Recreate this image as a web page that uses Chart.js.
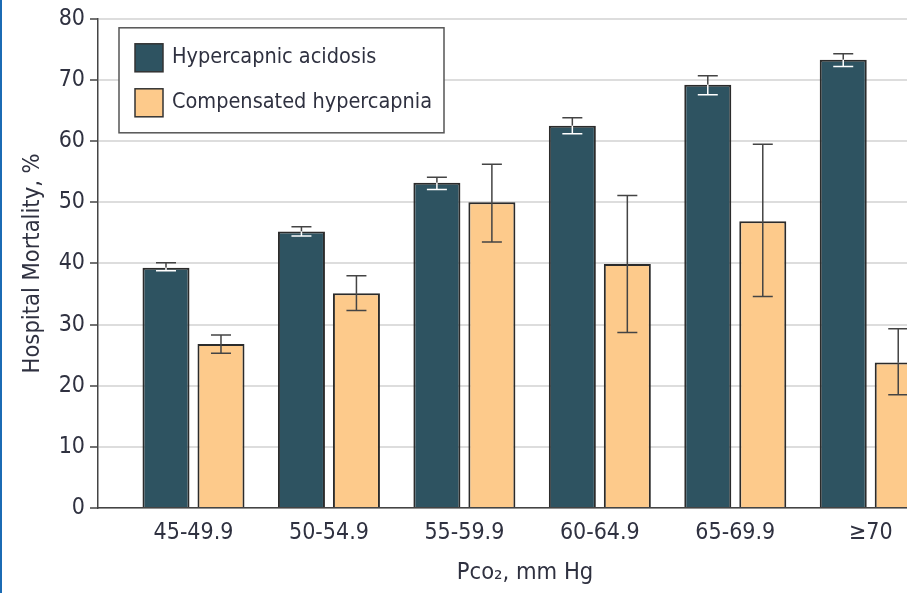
<!DOCTYPE html>
<html>
<head>
<meta charset="utf-8">
<script src="https://cdn.jsdelivr.net/npm/chart.js@4.4.1/dist/chart.umd.min.js"></script>
<style>
  html, body { margin: 0; padding: 0; background: #fff; overflow: hidden; }
  #wrap { width: 907px; height: 593px; overflow: hidden; border-left: 2px solid #1b6bb4; box-sizing: border-box; }
  canvas { display: block; }
</style>
</head>
<body>
<div id="wrap"><canvas id="chart" width="950" height="593"></canvas></div>
<script>
const groups = ['45-49.9', '50-54.9', '55-59.9', '60-64.9', '65-69.9', '\u226570'];

const acidosis = [39.3, 45.2, 53.2, 62.5, 69.2, 73.3];
const acidosisLow = [38.8, 44.5, 52.1, 61.2, 67.6, 72.2];
const acidosisHigh = [40.1, 46.0, 54.1, 63.8, 70.7, 74.3];

const compensated = [26.8, 35.1, 50.0, 39.9, 46.9, 23.8];
const compensatedLow = [25.3, 32.3, 43.5, 28.7, 34.6, 18.5];
const compensatedHigh = [28.3, 38.0, 56.2, 51.1, 59.5, 29.3];

const yTicks = [0, 10, 20, 30, 40, 50, 60, 70, 80];

const FONT = '"DejaVu Sans Condensed", "Liberation Sans Narrow", sans-serif';
const TEXT = '#2f3140';

// error bars drawn from the y scale; inside the dark bars the lower half is white
const errorBars = {
	id: 'errorBars',
	afterDatasetsDraw(chart) {
		const { ctx, scales } = chart;
		chart.data.datasets.forEach((ds, di) => {
			const meta = chart.getDatasetMeta(di);
			meta.data.forEach((bar, i) => {
				const yHi = scales.y.getPixelForValue(ds.errHigh[i]);
				const yLo = scales.y.getPixelForValue(ds.errLow[i]);
				const cap = 10;
				ctx.save();
				ctx.lineWidth = 1.5;
				ctx.strokeStyle = '#444';
				ctx.beginPath();
				ctx.moveTo(bar.x, yHi);
				ctx.lineTo(bar.x, Math.min(bar.y, yLo));
				ctx.moveTo(bar.x - cap, yHi);
				ctx.lineTo(bar.x + cap, yHi);
				ctx.stroke();
				ctx.strokeStyle = ds.innerErr;
				ctx.beginPath();
				ctx.moveTo(bar.x, bar.y);
				ctx.lineTo(bar.x, yLo);
				ctx.moveTo(bar.x - cap, yLo);
				ctx.lineTo(bar.x + cap, yLo);
				ctx.stroke();
				ctx.restore();
			});
		});
	},
};

const boxLegend = {
	id: 'boxLegend',
	afterDraw(chart) {
		const { ctx, chartArea } = chart;
		const x = chartArea.left + 21, y = chartArea.top + 9;
		ctx.save();
		ctx.fillStyle = '#fff';
		ctx.fillRect(x, y, 325, 105);
		ctx.lineWidth = 1.5;
		ctx.strokeStyle = '#555';
		ctx.strokeRect(x, y, 325, 105);
		ctx.font = '21.5px ' + FONT;
		ctx.textBaseline = 'middle';
		chart.data.datasets.forEach((ds, i) => {
			const sy = y + 16 + i * 45;
			ctx.fillStyle = ds.backgroundColor;
			ctx.fillRect(x + 16, sy, 28, 28);
			ctx.strokeStyle = '#333';
			ctx.strokeRect(x + 16, sy, 28, 28);
			ctx.fillStyle = TEXT;
			ctx.fillText(ds.label, x + 53, sy + 14);
		});
		ctx.restore();
	},
};

new Chart(document.getElementById('chart'), {
	type: 'bar',
	data: {
		datasets: [
			{
				label: 'Hypercapnic acidosis',
				data: acidosis.map((v, i) => ({ x: i, y: v })),
				errLow: acidosisLow,
				errHigh: acidosisHigh,
				innerErr: '#ffffff',
				backgroundColor: '#2e5361',
				borderColor: '#2b2b2b',
				borderWidth: 2,
			},
			{
				label: 'Compensated hypercapnia',
				data: compensated.map((v, i) => ({ x: i, y: v })),
				errLow: compensatedLow,
				errHigh: compensatedHigh,
				innerErr: '#444',
				backgroundColor: '#fdca8b',
				borderColor: '#2b2b2b',
				borderWidth: 2,
			},
		],
	},
	options: {
		responsive: false,
		animation: false,
		categoryPercentage: 0.812,
		barPercentage: 0.855,
		layout: { padding: { top: 15, left: 0, right: 0, bottom: 0 } },
		plugins: { legend: { display: false }, tooltip: { enabled: false } },
		scales: {
			x: {
				type: 'linear',
				offset: false,
				min: -0.705,
				max: 5.6,
				afterBuildTicks: (s) => { s.ticks = groups.map((_, i) => ({ value: i })); },
				afterFit: (s) => { s.height = 85; },
				grid: { display: false, drawTicks: false, offset: false },
				border: { display: true, color: '#444', width: 1.5 },
				ticks: {
					callback: (v) => groups[v],
					color: TEXT,
					font: { family: FONT, size: 23 },
					padding: 11,
					maxRotation: 0,
				},
				title: {
					display: true,
					text: 'Pco\u2082, mm Hg',
					color: TEXT,
					font: { family: FONT, size: 23.5 },
					padding: { top: 0, bottom: 6 },
				},
			},
			y: {
				min: 0,
				max: 80,
				afterBuildTicks: (s) => { s.ticks = yTicks.map((v) => ({ value: v })); },
				afterFit: (s) => { s.width = 96; },
				grid: { color: '#dddddd', lineWidth: 2, tickColor: '#444', tickWidth: 1.5, tickLength: 8 },
				border: { display: true, color: '#444', width: 1.5 },
				ticks: { color: TEXT, font: { family: FONT, size: 23 }, padding: 5 },
				title: {
					display: true,
					text: 'Hospital Mortality, %',
					color: TEXT,
					font: { family: FONT, size: 23.5 },
					padding: { top: 17, bottom: 0 },
				},
			},
		},
	},
	plugins: [errorBars, boxLegend],
});
</script>
</body>
</html>
